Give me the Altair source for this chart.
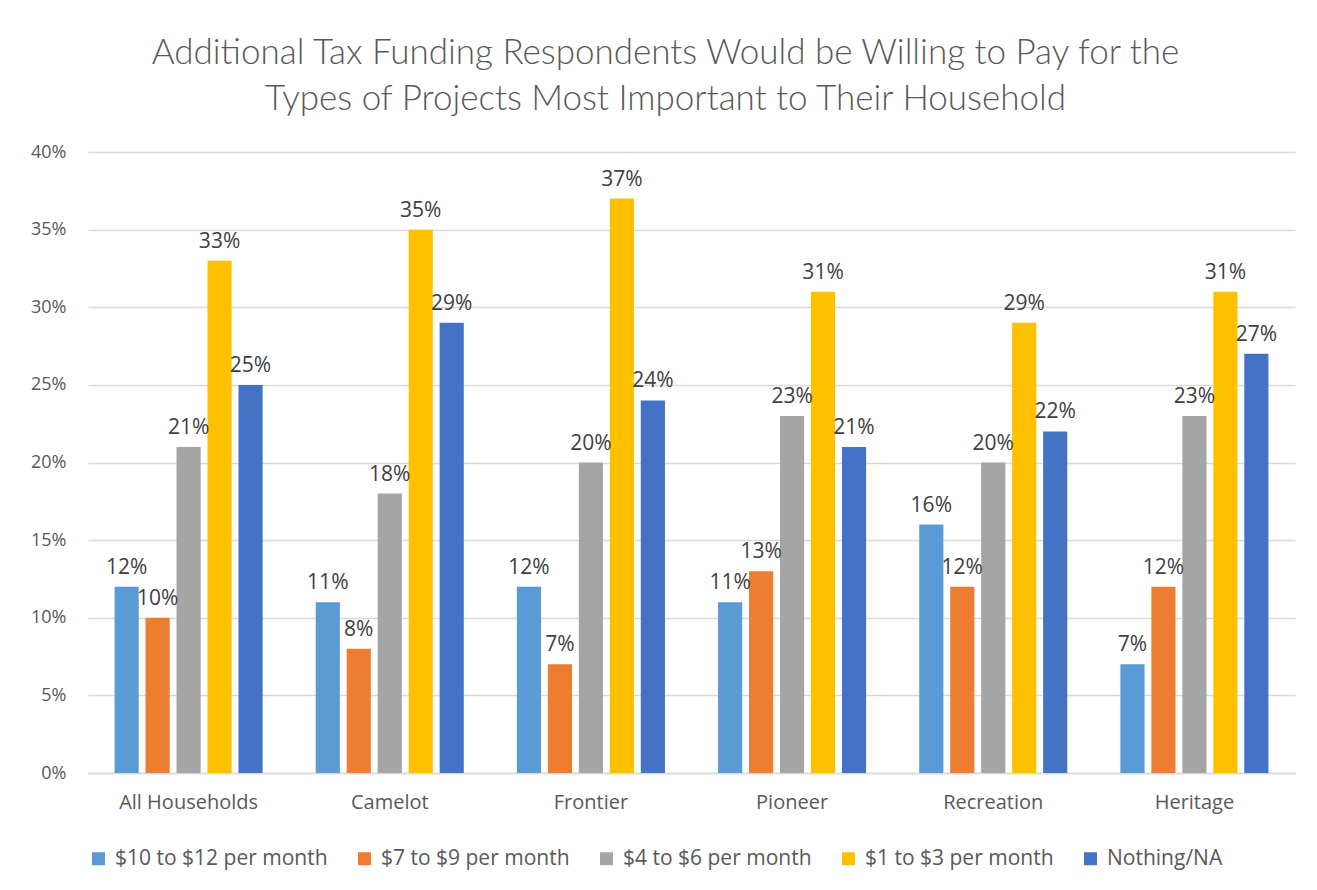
import altair as alt
import pandas as pd

categories = ["All Households", "Camelot", "Frontier", "Pioneer", "Recreation", "Heritage"]
series = ["$10 to $12 per month", "$7 to $9 per month", "$4 to $6 per month",
          "$1 to $3 per month", "Nothing/NA"]
v10_12 = [12, 11, 12, 11, 16, 7]
v7_9 = [10, 8, 7, 13, 12, 12]
v4_6 = [21, 18, 20, 23, 20, 23]
v1_3 = [33, 35, 37, 31, 29, 31]
nothing = [25, 29, 24, 21, 22, 27]
colors = ["#5B9BD5", "#ED7D31", "#A5A5A5", "#FFC000", "#4472C4"]

rows = []
for s, vals in zip(series, [v10_12, v7_9, v4_6, v1_3, nothing]):
    for c, v in zip(categories, vals):
        rows.append({"category": c, "series": s, "value": v / 100})
df = pd.DataFrame(rows)

FONT = "Open Sans"
TFONT = "Lato"

x = alt.X("category:N", sort=categories, title=None,
          scale=alt.Scale(paddingInner=0.264, paddingOuter=0.132),
          axis=alt.Axis(labelAngle=0, labelFontSize=20, labelColor="#595959",
                        labelPadding=19, ticks=False, domainColor="#D9D9D9",
                        domainWidth=1.5, labelFont=FONT, labelLimit=0))
xo = alt.XOffset("series:N", sort=series, scale=alt.Scale(paddingInner=0.22, paddingOuter=0))
y = alt.Y("value:Q", title=None,
          scale=alt.Scale(domain=[0, 0.4]),
          axis=alt.Axis(format=".0%", values=[i / 100 for i in range(0, 41, 5)],
                        labelFontSize=18, labelColor="#595959", labelPadding=22,
                        ticks=False, domain=False, gridColor="#D9D9D9",
                        gridWidth=1.5, labelFont=FONT))

base = alt.Chart(df)

bars = base.mark_bar().encode(
    x=x, xOffset=xo, y=y,
    color=alt.Color("series:N", sort=series,
                    scale=alt.Scale(domain=series, range=colors),
                    legend=alt.Legend(title=None, orient="bottom", direction="horizontal",
                                      symbolType="square", symbolSize=169,
                                      symbolStrokeWidth=0, labelFontSize=21,
                                      labelColor="#595959", labelFont=FONT,
                                      labelLimit=0,
                                      columnPadding=26, labelOffset=6, offset=36)),
)

labels = base.mark_text(baseline="bottom", dy=-9, fontSize=21, color="#404040", font=FONT).encode(
    x=x, xOffset=xo, y=y,
    text=alt.Text("value:Q", format=".0%"),
)

chart = alt.layer(bars, labels).properties(
    width=1207, height=621,
    autosize=alt.AutoSizeParams(type="none"),
    padding={"left": 80, "top": 144, "right": 14, "bottom": 109},
    title=alt.TitleParams(
        ["Additional Tax Funding Respondents Would be Willing to Pay for the",
         "Types of Projects Most Important to Their Household"],
        fontSize=35, font=TFONT, fontWeight=300, color="#595959",
        lineHeight=46, anchor="middle", offset=26, dx=-26),
).configure_view(stroke=None)

chart.save("out.html", embed_options={"renderer": "svg", "actions": False})
